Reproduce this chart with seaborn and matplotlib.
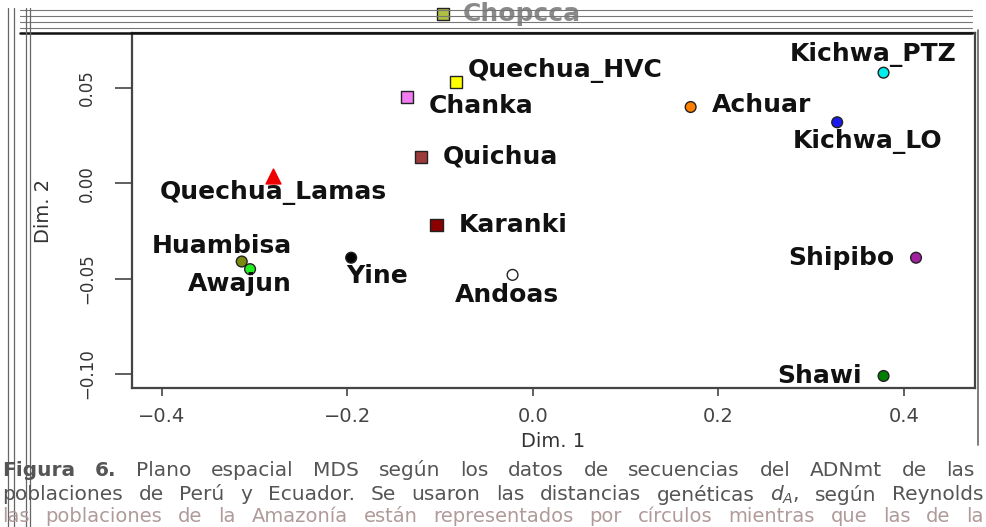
"""MDS plot (Dim. 1 vs Dim. 2) de poblaciones de Perú y Ecuador."""

import matplotlib
matplotlib.use('Agg')
import matplotlib.pyplot as plt
import numpy as np
import pandas as pd
import seaborn as sns
from matplotlib.lines import Line2D

# --- datos ---
populations = ['Quechua_HVC', 'Chanka', 'Quichua', 'Karanki', 'Quechua_Lamas',
               'Huambisa', 'Awajun', 'Yine', 'Andoas', 'Achuar',
               'Kichwa_PTZ', 'Kichwa_LO', 'Shipibo', 'Shawi', 'Chopcca']
dim1 = [-0.083, -0.136, -0.121, -0.104, -0.280,
        -0.314, -0.305, -0.196, -0.022, 0.170,
        0.378, 0.328, 0.413, 0.378, -0.097]
dim2 = [0.053, 0.045, 0.014, -0.022, 0.004,
        -0.041, -0.045, -0.039, -0.048, 0.040,
        0.058, 0.032, -0.039, -0.101, 0.089]
shape = ['square', 'square', 'square', 'square', 'triangle',
         'circle', 'circle', 'circle', 'circle', 'circle',
         'circle', 'circle', 'circle', 'circle', 'square']
x_ticks = [-0.4, -0.2, 0.0, 0.2, 0.4]
y_ticks = [-0.10, -0.05, 0.00, 0.05]

caption = [
    'Figura 6. Plano espacial MDS según los datos de secuencias del ADNmt de las',
    'poblaciones de Perú y Ecuador. Se usaron las distancias genéticas $d_A$, según Reynolds',
    'las poblaciones de la Amazonía están representados por círculos mientras que las de la',
]

fill = {
    'Quechua_HVC': '#ffff00', 'Chanka': '#f07cf0', 'Quichua': '#9c3b3b',
    'Karanki': '#8b0000', 'Quechua_Lamas': '#ee0000', 'Huambisa': '#7a8a10',
    'Awajun': '#22ee22', 'Yine': '#000000', 'Andoas': '#ffffff',
    'Achuar': '#ff7f00', 'Kichwa_PTZ': '#00eeee', 'Kichwa_LO': '#1a1aee',
    'Shipibo': '#a020a0', 'Shawi': '#008000', 'Chopcca': '#b0c040',
}
markers = {'square': 's', 'circle': 'o', 'triangle': '^'}
sizes = {'square': 75, 'circle': 60, 'triangle': 115}

# desplazamiento de cada etiqueta (px) y alineación
label_pos = {
    'Quechua_HVC': (12, 12, 'left'), 'Chanka': (22, -9, 'left'),
    'Quichua': (22, 0, 'left'), 'Karanki': (22, 0, 'left'),
    'Quechua_Lamas': (0, -17, 'center'), 'Huambisa': (-20, 16, 'center'),
    'Awajun': (-10, -15, 'center'), 'Yine': (26, -18, 'center'),
    'Andoas': (-6, -20, 'center'), 'Achuar': (21, 2, 'left'),
    'Kichwa_PTZ': (-10, 18, 'center'), 'Kichwa_LO': (30, -19, 'center'),
    'Shipibo': (-22, 0, 'right'), 'Shawi': (-22, 0, 'right'),
    'Chopcca': (20, 0, 'left'),
}

df = pd.DataFrame({'pop': populations, 'dim1': dim1, 'dim2': dim2, 'shape': shape})

sns.set_theme(style='white')
plt.rcParams['font.family'] = ['DejaVu Sans']

W, H = 987, 527
fig = plt.figure(figsize=(W / 100, H / 100), dpi=100)
ax = fig.add_axes([132 / W, 1 - 388 / H, (975 - 132) / W, (388 - 33) / H])

for shp, sub in df.groupby('shape'):
    sns.scatterplot(data=sub, x='dim1', y='dim2', hue='pop', palette=fill,
                    marker=markers[shp], s=sizes[shp],
                    edgecolor='#222222' if shp != 'triangle' else '#ee0000',
                    linewidth=1.0, legend=False, ax=ax, clip_on=False, zorder=3)

px = 0.72  # px -> pt a 100 dpi
for name, xv, yv in zip(populations, dim1, dim2):
    dx, dy, ha = label_pos[name]
    col = '#8a8a8a' if name == 'Chopcca' else '#111111'
    ax.annotate(name, (xv, yv), xytext=(dx * px, dy * px), textcoords='offset points',
                ha=ha, va='center', fontsize=18, fontweight='bold', color=col,
                annotation_clip=False, zorder=4)

ax.set_xlim(-0.4323, 0.4766)
ax.set_ylim(-0.1073, 0.0788)
ax.set_xticks(x_ticks)
ax.set_xticklabels([f'{v:.1f}'.replace('-', '\u2212') for v in x_ticks])
ax.set_yticks(y_ticks)
ax.set_yticklabels([f'{v:.2f}'.replace('-', '\u2212') for v in y_ticks],
                   rotation=90, va='center')
ax.tick_params(axis='x', length=6, width=1.2, color='#444444', labelsize=14,
               labelcolor='#444444', pad=8, direction='out', bottom=True)
ax.tick_params(axis='y', length=12, width=1.2, color='#444444', labelsize=12,
               labelcolor='#333333', pad=14, direction='out', left=True)
for sp in ax.spines.values():
    sp.set_color('#444444')
    sp.set_linewidth(1.6)
ax.set_xlabel('Dim. 1', fontsize=14, color='#333333', labelpad=4)
ax.set_ylabel('Dim. 2', fontsize=14, color='#333333', labelpad=18)

# marco del escaneo
for yy in (10, 16, 22, 28):
    fig.add_artist(Line2D([0.02, 0.985], [1 - yy / H] * 2, color='#777777', lw=0.8))
fig.add_artist(Line2D([0.02, 0.985], [1 - 33 / H] * 2, color='#111111', lw=1.8))
for xx in (8, 14, 26, 30):
    fig.add_artist(Line2D([xx / W] * 2, [0, 1 - 8 / H], color='#666666', lw=0.9))
fig.add_artist(Line2D([978 / W] * 2, [1 - 445 / H, 1 - 30 / H], color='#666666', lw=1.2))


def justify(line, x0, x1, y, n_bold=0, **kw):
    """Coloca las palabras de una línea justificada entre x0 y x1 (px)."""
    words = line.split(' ')
    texts = [fig.text(0, 1 - y / H, w, ha='left', va='center',
                      fontweight='bold' if i < n_bold else 'normal', **kw)
             for i, w in enumerate(words)]
    renderer = fig.canvas.get_renderer()
    widths = [t.get_window_extent(renderer).width for t in texts]
    gap = (x1 - x0 - sum(widths)) / (len(words) - 1)
    x = x0
    for t, w in zip(texts, widths):
        t.set_x(x / W)
        x += w + gap


fig.canvas.draw()
justify(caption[0], 2, 975, 470, n_bold=2, fontsize=14.5, color='#555555')
justify(caption[1], 2, 984, 495, fontsize=14.5, color='#555555')
justify(caption[2], 2, 984, 516, fontsize=14, color='#b09a9a')

fig.savefig('out.png', dpi=100)
